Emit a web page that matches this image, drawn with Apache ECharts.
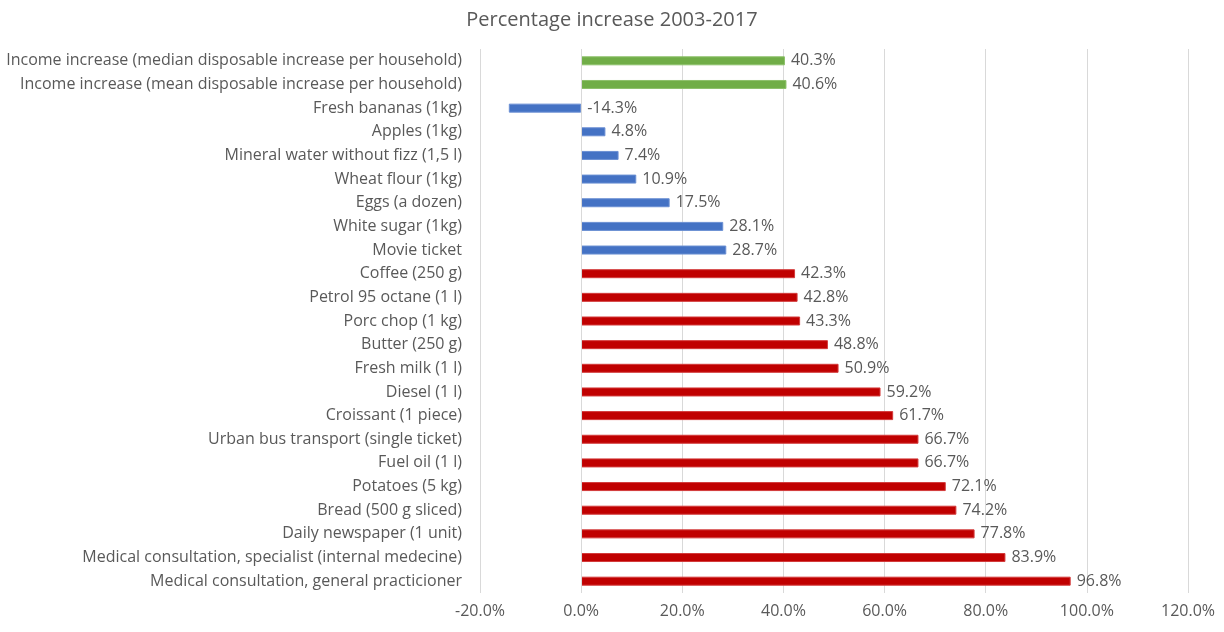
<!DOCTYPE html>
<html>
<head>
<meta charset="utf-8">
<script src="https://cdn.jsdelivr.net/npm/echarts@6/dist/echarts.min.js"></script>
<style>
html,body{margin:0;padding:0;background:#fff;}
#chart{width:1224px;height:632px;}
</style>
</head>
<body>
<div id="chart"></div>
<script>
const categories = [
  "Income increase (median disposable increase per household)",
  "Income increase (mean disposable increase per household)",
  "Fresh bananas (1kg)",
  "Apples (1kg)",
  "Mineral water without fizz (1,5 l)",
  "Wheat flour (1kg)",
  "Eggs (a dozen)",
  "White sugar (1kg)",
  "Movie ticket",
  "Coffee (250 g)",
  "Petrol 95 octane (1 l)",
  "Porc chop (1 kg)",
  "Butter (250 g)",
  "Fresh milk (1 l)",
  "Diesel (1 l)",
  "Croissant (1 piece)",
  "Urban bus transport (single ticket)",
  "Fuel oil (1 l)",
  "Potatoes (5 kg)",
  "Bread (500 g sliced)",
  "Daily newspaper (1 unit)",
  "Medical consultation, specialist (internal medecine)",
  "Medical consultation, general practicioner"
];
const values = [40.3, 40.6, -14.3, 4.8, 7.4, 10.9, 17.5, 28.1, 28.7, 42.3, 42.8, 43.3, 48.8, 50.9, 59.2, 61.7, 66.7, 66.7, 72.1, 74.2, 77.8, 83.9, 96.8];
const groups = ["income","income","below","below","below","below","below","below","below",
  "above","above","above","above","above","above","above","above","above","above","above","above","above","above"];
const xTicks = [-20, 0, 20, 40, 60, 80, 100, 120];
const title = "Percentage increase 2003-2017";

const groupColor = {income: "#70AD47", below: "#4472C4", above: "#C00000"};
const groupBorder = {income: "#8DC06A", below: "#6A8FD3", above: "#D33A3A"};
const FONT = "Open Sans";

const chart = echarts.init(document.getElementById('chart'));
chart.setOption({
  backgroundColor: '#fff',
  animation: false,
  title: {
    text: title, left: 'center', top: 5,
    textStyle: {fontFamily: FONT, fontSize: 20, fontWeight: 'normal', color: '#595959'}
  },
  grid: {left: 480, right: 36, top: 49, bottom: 39, containLabel: false},
  xAxis: {
    type: 'value', min: xTicks[0], max: xTicks[xTicks.length - 1], interval: 20,
    axisLine: {show: false}, axisTick: {show: false},
    splitLine: {show: true, lineStyle: {color: '#D9D9D9', width: 1}},
    axisLabel: {formatter: v => v.toFixed(1) + '%', fontFamily: FONT, fontSize: 16, color: '#595959', margin: 10}
  },
  yAxis: {
    type: 'category', data: categories, inverse: true,
    axisLine: {show: false}, axisTick: {show: false},
    axisLabel: {fontFamily: FONT, fontSize: 16, color: '#595959', margin: 18}
  },
  series: [{
    type: 'bar', barWidth: 9,
    data: values.map((v, i) => ({
      value: v,
      itemStyle: {color: groupColor[groups[i]], borderColor: groupBorder[groups[i]], borderWidth: 1}
    })),
    label: {
      show: true, position: 'right', distance: 6,
      formatter: p => p.value.toFixed(1) + '%',
      fontFamily: FONT, fontSize: 16, color: '#595959'
    },
    markLine: {
      silent: true, symbol: 'none', label: {show: false},
      lineStyle: {color: '#D9D9D9', type: 'solid', width: 1},
      data: [{xAxis: 0}]
    }
  }]
});
</script>
</body>
</html>
